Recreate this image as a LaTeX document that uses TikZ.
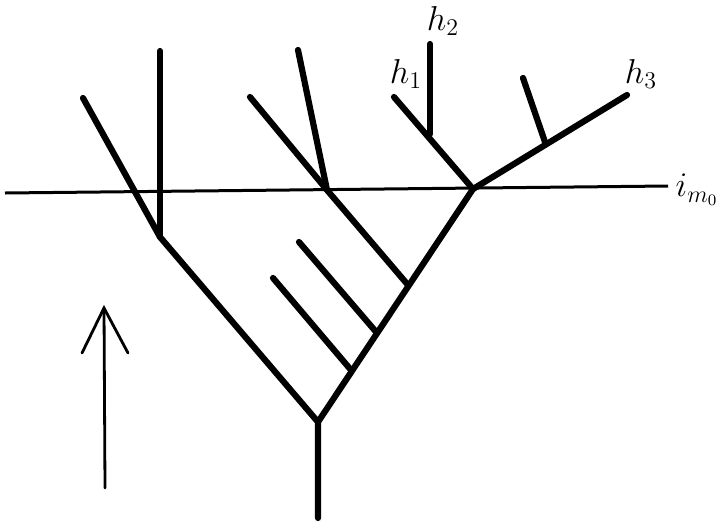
\documentclass[tikz,border=0pt]{standalone}
\usepackage{tikz}
\usetikzlibrary{positioning}

\begin{document}
\begin{tikzpicture}[
  x=0.5pt,y=-0.5pt,
  branch/.style={line width=3.1pt,line cap=round,line join=round},
  level/.style={line width=1.5pt},
  lbl/.style={font=\fontsize{17}{20}\selectfont,inner sep=0pt},
  flow/.style={line width=1.4pt,line cap=round},
]
  \useasboundingbox (0,0) rectangle (716,525);
  % main fork
  \coordinate (base) at (318,518);
  \coordinate (root) at (318,422);
  \coordinate (lfork) at (160,237);
  \coordinate (rfork) at (473,189);
  \coordinate (lleaf) at (83,98);
  \coordinate (ltop) at (160,51);
  % side shoots on the right limb
  \coordinate (s1) at (351,370);
  \coordinate (s1t) at (273,278);
  \coordinate (s2) at (377,333);
  \coordinate (s2t) at (299,242);
  \coordinate (s3) at (408,285);
  \coordinate (mfork) at (327,190);
  \coordinate (mleaf) at (250,97);
  \coordinate (mtop) at (298,50);
  % upper right crown
  \coordinate (h1) at (394,97);
  \coordinate (h2b) at (430,134);
  \coordinate (h2) at (430,44);
  \coordinate (h3) at (627,95);
  \coordinate (h3b) at (545,142);
  \coordinate (h3t) at (523,78);
  % level line
  \coordinate (lvlA) at (5,193);
  \coordinate (lvlB) at (668,186);
  \draw[level] (lvlA) -- (lvlB);
  \node[lbl] (im0) at (697,190) {$i_{m_0}$};

  \draw[branch] (base) -- (root) -- (lfork) -- (lleaf);
  \draw[branch] (lfork) -- (ltop);
  \draw[branch] (root) -- (rfork) -- (h1);
  \draw[branch] (rfork) -- (h3);
  \draw[branch] (s1) -- (s1t);
  \draw[branch] (s2) -- (s2t);
  \draw[branch] (s3) -- (mfork) -- (mleaf);
  \draw[branch] (mfork) -- (mtop);
  \draw[branch] (h2b) -- (h2);
  \draw[branch] (h3b) -- (h3t);

  \node[lbl] (lh1) at (406,74) {$h_1$};
  \node[lbl] (lh2) at (443,21) {$h_2$};
  \node[lbl] (lh3) at (641,74) {$h_3$};

  % time arrow
  \coordinate (tail) at (105,488);
  \coordinate (tip) at (104,308);
  \coordinate (barbL) at (82,353);
  \coordinate (barbR) at (128,353);
  \draw[flow] (tail) -- (tip);
  \draw[flow] (barbL) -- (tip) -- (barbR);
\end{tikzpicture}
\end{document}
